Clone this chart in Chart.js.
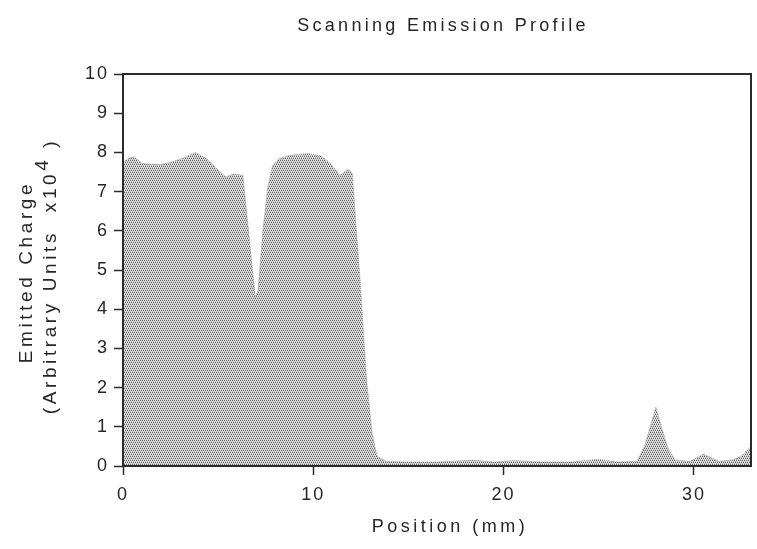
<!DOCTYPE html>
<html>
<head>
<meta charset="utf-8">
<title>Scanning Emission Profile</title>
<script src="https://cdn.jsdelivr.net/npm/chart.js@4"></script>
<style>
  html, body { margin: 0; padding: 0; background: #fff; }
  #wrap { width: 757px; height: 549px; }
</style>
</head>
<body>
<div id="wrap"><canvas id="c" width="757" height="549"></canvas></div>
<script>
// values
const positions = [0, 0.3, 0.6, 1.0, 1.5, 2.0, 2.6, 3.2, 3.8, 4.4, 5.0, 5.4, 5.8, 6.3, 6.7, 6.95, 7.1, 7.35, 7.6, 7.85,
  8.2, 8.8, 9.7, 10.4, 10.9, 11.4, 11.85, 12.05, 12.45, 12.8, 13.1, 13.35, 13.8, 15, 16.5, 18.4, 19.5, 20.6, 22, 23.5,
  25, 26, 27.0, 27.4, 28.0, 28.6, 29.0, 29.8, 30.5, 31.3, 32.0, 32.5, 33];
const charge = [7.75, 7.85, 7.88, 7.72, 7.70, 7.69, 7.76, 7.86, 8.0, 7.84, 7.55, 7.37, 7.45, 7.42, 5.5, 4.3, 4.5, 6.0, 7.1, 7.65,
  7.84, 7.93, 7.97, 7.91, 7.72, 7.42, 7.57, 7.46, 4.8, 2.2, 0.8, 0.25, 0.12, 0.1, 0.1, 0.15, 0.1, 0.14, 0.1, 0.1,
  0.17, 0.1, 0.12, 0.5, 1.5, 0.5, 0.15, 0.12, 0.3, 0.12, 0.15, 0.25, 0.5];
const xTicks = [0, 10, 20, 30];
const yTicks = [0, 1, 2, 3, 4, 5, 6, 7, 8, 9, 10];

const chartTitle = 'Scanning Emission Profile';
const xTitle = 'Position (mm)';
const yTitle1 = 'Emitted Charge';
const yTitle2 = ['(Arbitrary Units  x10', '4', ' )']; // middle piece is the raised exponent

const FONT = '"Liberation Sans", Arial, Helvetica, sans-serif';
const INK = '#2b2b2b';
const TEXT = '#262626';

// stipple fill like the old halftone print: sparse staggered dots
function stipple(){
  const p = document.createElement('canvas');
  p.width = 4; p.height = 4;
  const g = p.getContext('2d');
  g.fillStyle = '#e6e6e6'; g.fillRect(0, 0, 4, 4);
  g.fillStyle = '#5c5c5c';
  [[0,0],[2,0],[1,2],[3,2]].forEach(([x, y]) => g.fillRect(x, y, 1, 1));
  g.fillStyle = '#b4b4b4';
  [[1,1],[3,1],[0,3],[2,3]].forEach(([x, y]) => g.fillRect(x, y, 1, 1));
  return document.getElementById('c').getContext('2d').createPattern(p, 'repeat');
}

// frame + widely spaced text drawn on top
const decor = {
  id: 'decor',
  beforeDraw(chart){ chart.ctx.letterSpacing = '2px'; },
  afterDraw(chart){
    const {ctx, chartArea: a} = chart;
    const midX = (a.left + a.right) / 2, midY = (a.top + a.bottom) / 2;
    ctx.save();
    ctx.strokeStyle = INK; ctx.lineWidth = 2;
    ctx.strokeRect(a.left, a.top, a.right - a.left, a.bottom - a.top);

    ctx.fillStyle = TEXT;
    ctx.textAlign = 'center'; ctx.textBaseline = 'alphabetic';
    ctx.font = '18px ' + FONT;
    ctx.letterSpacing = '3.3px';
    ctx.fillText(chartTitle, midX + 6, 31);
    ctx.letterSpacing = '3.5px';
    ctx.fillText(xTitle, midX + 13, 532);

    // y title, rotated
    ctx.translate(0, midY + 2);
    ctx.rotate(-Math.PI / 2);
    ctx.font = '19px ' + FONT;
    ctx.letterSpacing = '3.6px';
    ctx.textBaseline = 'middle';
    ctx.fillText(yTitle1, 0, 27);
    ctx.textAlign = 'left';
    const w = yTitle2.map(s => ctx.measureText(s).width);
    let x = -(w[0] + w[1] + w[2]) / 2 - 4;
    ctx.fillText(yTitle2[0], x, 51); x += w[0];
    ctx.fillText(yTitle2[1], x, 43); x += w[1];
    ctx.fillText(yTitle2[2], x, 51);
    ctx.restore();
  }
};

new Chart(document.getElementById('c'), {
  type: 'line',
  data: {
    datasets: [{
      data: positions.map((x, i) => ({x, y: charge[i]})),
      fill: 'origin',
      backgroundColor: stipple(),
      borderColor: '#9a9a9a',
      borderWidth: 1,
      borderDash: [1, 1],
      pointRadius: 0,
      tension: 0
    }]
  },
  options: {
    responsive: false,
    animation: false,
    layout: { padding: { top: 74, right: 6, left: 0, bottom: 0 } },
    plugins: { legend: { display: false }, tooltip: { enabled: false }, title: { display: false } },
    scales: {
      x: {
        type: 'linear', min: 0, max: 33,
        afterBuildTicks: s => { s.ticks = xTicks.map(v => ({value: v})); },
        afterFit: s => { s.height = 83; },
        border: { display: false },
        grid: { drawOnChartArea: false, drawTicks: true, tickLength: 9, tickWidth: 1.5, tickColor: INK, color: INK },
        ticks: { color: TEXT, font: { family: FONT, size: 18 }, padding: 9, maxRotation: 0 }
      },
      y: {
        min: 0, max: 10,
        afterBuildTicks: s => { s.ticks = yTicks.map(v => ({value: v})); },
        afterFit: s => { s.width = 123; },
        border: { display: false },
        grid: { drawOnChartArea: false, drawTicks: true, tickLength: 9, tickWidth: 1.5, tickColor: INK, color: INK },
        ticks: { color: TEXT, font: { family: FONT, size: 18 }, padding: 5 }
      }
    }
  },
  plugins: [decor]
});
</script>
</body>
</html>
